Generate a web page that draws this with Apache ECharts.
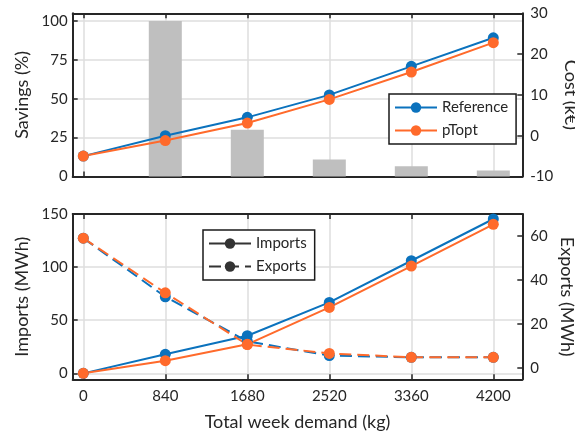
<!DOCTYPE html>
<html>
<head>
<meta charset="utf-8">
<script src="https://cdn.jsdelivr.net/npm/echarts@6/dist/echarts.min.js"></script>
<style>
  html, body { margin: 0; padding: 0; background: #fff; }
  #chart { width: 575px; height: 436px; }
</style>
</head>
<body>
<div id="chart"></div>
<script>
// demand levels (kg)
const demand = [0, 840, 1680, 2520, 3360, 4200];
// top panel
const savings = [null, 100, 30, 11, 6.6, 3.9];
const costRef = [-5, 0, 4.5, 10, 17, 24];
const costOpt = [-5, -1.2, 3.1, 8.9, 15.6, 22.8];
// bottom panel
const importsRef = [0, 17.9, 35.4, 66.8, 106, 145.3];
const importsOpt = [0, 11.9, 27.3, 62.1, 101, 140.3];
const exportsRef = [59, 32.3, 12, 5.5, 4.7, 4.7];
const exportsOpt = [59, 34.1, 10.5, 6.5, 4.7, 4.7];
// tick labels
const savingsTicks = [0, 25, 50, 75, 100];
const importsTicks = [0, 50, 100, 150];
const exportsTicks = [0, 20, 40, 60];

const BLUE = '#0b72bd';
const ORANGE = '#ff6a2b';
const DARK = '#262626';
const GRID = '#dedede';
const FONT = 'Lato';

const pairs = (ys) => demand.map((x, i) => [x, ys[i]]);

const chart = echarts.init(document.getElementById('chart'));

const axisLine = { onZero: false, lineStyle: { color: DARK, width: 2 } };
const tickIn = (vals) => ({ inside: true, length: 5, lineStyle: { color: DARK, width: 1.5 }, customValues: vals });
const gridLine = { show: true, lineStyle: { color: GRID, width: 1.5 } };
const label = { color: DARK, fontFamily: FONT, fontSize: 15 };
const nameStyle = { color: DARK, fontFamily: FONT, fontSize: 18 };

function xAxisPair(gridIndex, showLabels) {
  return [{
    type: 'value', gridIndex: gridIndex, position: 'bottom',
    min: -108.6, max: 4497,
    axisLine: axisLine,
    axisTick: tickIn(demand),
    axisLabel: Object.assign({ show: showLabels, margin: 9, customValues: demand, formatter: (v) => String(v) }, label),
    splitLine: { show: false },
    name: showLabels ? 'Total week demand (kg)' : '',
    nameLocation: 'middle', nameGap: 34, nameTextStyle: nameStyle
  }, {
    type: 'value', gridIndex: gridIndex, position: 'top',
    min: -108.6, max: 4497,
    axisLine: axisLine,
    axisTick: tickIn(demand),
    axisLabel: { show: false },
    splitLine: { show: false }
  }];
}

function lineSeries(name, data, color, xi, yi, dashed) {
  return {
    name: name, type: 'line', xAxisIndex: xi, yAxisIndex: yi,
    data: data, symbol: 'circle', symbolSize: 11,
    itemStyle: { color: color },
    lineStyle: { color: color, width: 2, type: dashed ? [12, 6] : 'solid' },
    z: 3
  };
}

// vertical grid lines at each demand level, kept behind the bars
function vGrid(xi, yi) {
  return {
    name: 'vgrid', type: 'line', xAxisIndex: xi, yAxisIndex: yi, data: [], z: 0,
    markLine: {
      silent: true, symbol: 'none', z: 0, animation: false,
      label: { show: false },
      lineStyle: { color: GRID, width: 1.5, type: 'solid' },
      data: demand.map((x) => ({ xAxis: x }))
    }
  };
}

const legendBox = {
  orient: 'vertical', backgroundColor: '#fff',
  borderColor: '#1a1a1a', borderWidth: 1.5, borderRadius: 0,
  padding: [6, 8, 6, 5], itemGap: 8, itemWidth: 42, itemHeight: 13,
  textStyle: { color: DARK, fontFamily: FONT, fontSize: 15 }
};

const option = {
  animation: false,
  textStyle: { fontFamily: FONT },
  grid: [
    { left: 72.7, right: 52.7, top: 13.3, height: 163.2, outerBoundsMode: 'none', containLabel: false },
    { left: 72.7, right: 52.7, top: 214, height: 165.3, outerBoundsMode: 'none', containLabel: false }
  ],
  legend: [
    Object.assign({ left: 389, top: 94, data: ['Reference', 'pTopt'] }, legendBox),
    Object.assign({ left: 203, top: 230, data: ['Imports', 'Exports'] }, legendBox)
  ],
  xAxis: [].concat(xAxisPair(0, false), xAxisPair(1, true)),
  yAxis: [{
    type: 'value', gridIndex: 0, position: 'left', min: 0, max: 105,
    axisLine: axisLine, axisTick: tickIn(savingsTicks),
    axisLabel: Object.assign({ margin: 5, customValues: savingsTicks }, label),
    splitLine: gridLine,
    name: 'Savings (%)', nameLocation: 'middle', nameGap: 38, nameTextStyle: nameStyle
  }, {
    type: 'value', gridIndex: 0, position: 'right', min: -10, max: 30, interval: 10,
    axisLine: axisLine, axisTick: { inside: true, length: 5, lineStyle: { color: DARK, width: 1.5 } },
    axisLabel: Object.assign({ margin: 8 }, label),
    splitLine: { show: false },
    name: 'Cost (k€)', nameLocation: 'middle', nameGap: 40, nameRotate: -90, nameMoveOverlap: false,
    nameTextStyle: nameStyle
  }, {
    type: 'value', gridIndex: 1, position: 'left', min: -5.6, max: 150,
    axisLine: axisLine, axisTick: tickIn(importsTicks),
    axisLabel: Object.assign({ margin: 5, customValues: importsTicks }, label),
    splitLine: gridLine,
    name: 'Imports (MWh)', nameLocation: 'middle', nameGap: 38, nameTextStyle: nameStyle
  }, {
    type: 'value', gridIndex: 1, position: 'right', min: -5.3, max: 70,
    axisLine: axisLine, axisTick: tickIn(exportsTicks),
    axisLabel: Object.assign({ margin: 8, customValues: exportsTicks }, label),
    splitLine: { show: false },
    name: 'Exports (MWh)', nameLocation: 'middle', nameGap: 36, nameRotate: -90, nameMoveOverlap: false,
    nameTextStyle: nameStyle
  }],
  series: [
    vGrid(0, 0),
    vGrid(2, 2),
    {
      name: 'Savings', type: 'bar', xAxisIndex: 0, yAxisIndex: 0,
      data: pairs(savings), barWidth: 33, itemStyle: { color: '#bfbfbf' }, z: 1
    },
    lineSeries('Reference', pairs(costRef), BLUE, 0, 1, false),
    lineSeries('pTopt', pairs(costOpt), ORANGE, 0, 1, false),
    lineSeries('Imports ref', pairs(importsRef), BLUE, 2, 2, false),
    lineSeries('Exports ref', pairs(exportsRef), BLUE, 2, 3, true),
    lineSeries('Imports opt', pairs(importsOpt), ORANGE, 2, 2, false),
    lineSeries('Exports opt', pairs(exportsOpt), ORANGE, 2, 3, true),
    // legend-only entries
    lineSeries('Imports', [], '#333333', 2, 2, false),
    lineSeries('Exports', [], '#333333', 2, 3, true)
  ]
};

chart.setOption(option);
</script>
</body>
</html>
